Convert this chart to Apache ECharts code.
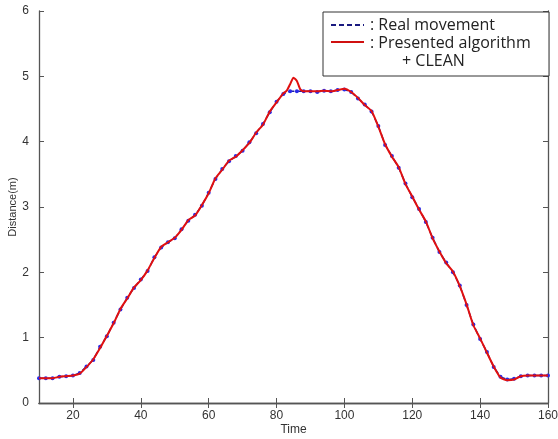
<!DOCTYPE html>
<html>
<head>
<meta charset="utf-8">
<script src="https://cdn.jsdelivr.net/npm/echarts@6/dist/echarts.min.js"></script>
<style>html,body{margin:0;padding:0;background:#fff;}#c{width:558px;height:439px;}</style>
</head>
<body>
<div id="c"></div>
<script>
// Real movement (blue dashed with markers)
var realTime = [10,12,14,16,18,20,22,24,26,28,30,32,34,36,38,40,42,44,46,48,50,52,54,56,58,60,62,64,66,68,70,72,74,76,78,80,82,84,86,88,90,92,94,96,98,100,102,104,106,108,110,112,114,116,118,120,122,124,126,128,130,132,134,136,138,140,142,144,146,148,150,152,154,156,158,160];
var realDist = [0.38,0.38,0.38,0.40,0.41,0.42,0.46,0.56,0.66,0.86,1.02,1.23,1.43,1.61,1.76,1.89,2.02,2.23,2.38,2.46,2.52,2.66,2.79,2.88,3.02,3.22,3.43,3.58,3.70,3.78,3.86,3.99,4.13,4.27,4.45,4.61,4.73,4.77,4.77,4.77,4.77,4.76,4.78,4.77,4.79,4.80,4.76,4.66,4.57,4.46,4.24,3.95,3.78,3.60,3.36,3.15,2.97,2.77,2.53,2.31,2.15,2.00,1.80,1.50,1.20,0.98,0.78,0.55,0.40,0.36,0.37,0.41,0.42,0.42,0.42,0.42];
// Presented algorithm + CLEAN (red solid)
var algTime = [10,12,14,16,18,20,22,24,26,28,30,32,34,36,38,40,42,44,46,48,50,52,54,56,58,60,62,64,66,68,70,72,74,76,78,80,82,83,84,85,86,87,88,90,92,94,96,98,100,102,104,106,108,110,112,114,116,118,120,122,124,126,128,130,132,134,136,138,140,142,144,146,148,150,152,154,156,158,160];
var algDist = [0.38,0.38,0.38,0.40,0.41,0.42,0.45,0.55,0.67,0.84,1.03,1.22,1.44,1.60,1.77,1.88,2.03,2.22,2.39,2.46,2.53,2.65,2.80,2.87,3.03,3.21,3.44,3.57,3.71,3.77,3.87,3.98,4.14,4.26,4.46,4.60,4.74,4.78,4.88,4.98,4.93,4.80,4.77,4.77,4.77,4.78,4.77,4.79,4.81,4.76,4.67,4.56,4.47,4.23,3.96,3.77,3.61,3.35,3.16,2.96,2.78,2.52,2.32,2.14,2.01,1.79,1.51,1.19,0.99,0.77,0.56,0.39,0.35,0.36,0.41,0.42,0.42,0.42,0.42];
var xTicks = [20,40,60,80,100,120,140,160];
var yTicks = [0,1,2,3,4,5,6];
var legendNames = [': Real movement', ': Presented algorithm', '+ CLEAN'];

function pairs(xs, ys){ return xs.map(function(x,i){ return [x, ys[i]]; }); }

var axisCol = '#555';
var labelStyle = {color:'#333', fontSize:12, fontFamily:'Liberation Sans, Arial, sans-serif'};
var legFont = '16px "Open Sans", sans-serif';
var chart = echarts.init(document.getElementById('c'));
chart.setOption({
  animation:false,
  grid:{left:39, right:10, top:11, bottom:36, outerBoundsMode:'none', containLabel:false},
  xAxis:[{
    type:'value', min:10, max:160, position:'bottom',
    name:'Time', nameLocation:'middle', nameGap:21, nameMoveOverlap:false,
    nameTextStyle:{color:'#333', fontSize:12, fontFamily:'Liberation Sans, Arial, sans-serif'},
    axisLine:{lineStyle:{color:axisCol, width:1.3}},
    axisTick:{inside:true, length:5, customValues:xTicks, lineStyle:{color:axisCol}},
    axisLabel:Object.assign({customValues:xTicks, margin:7}, labelStyle),
    splitLine:{show:false}
  },{
    type:'value', min:10, max:160, position:'top',
    axisLine:{lineStyle:{color:axisCol, width:1.3}},
    axisTick:{inside:true, length:5, customValues:xTicks, lineStyle:{color:axisCol}},
    axisLabel:{show:false}, splitLine:{show:false}
  }],
  yAxis:[{
    type:'value', min:0, max:6, interval:1, position:'left',
    name:'Distance(m)', nameLocation:'middle', nameGap:21, nameRotate:90, nameMoveOverlap:false,
    nameTextStyle:{color:'#333', fontSize:11, fontFamily:'Liberation Sans, Arial, sans-serif'},
    axisLine:{show:true, lineStyle:{color:axisCol, width:1.3}},
    axisTick:{show:true, inside:true, length:5, lineStyle:{color:axisCol}},
    axisLabel:Object.assign({margin:10}, labelStyle),
    splitLine:{show:false}
  },{
    type:'value', min:0, max:6, interval:1, position:'right',
    axisLine:{show:true, lineStyle:{color:axisCol, width:1.3}},
    axisTick:{show:true, inside:true, length:5, lineStyle:{color:axisCol}},
    axisLabel:{show:false}, splitLine:{show:false}
  }],
  series:[{
    name:'Real movement', type:'line', xAxisIndex:0, yAxisIndex:0,
    data:pairs(realTime, realDist),
    symbol:'circle', symbolSize:4, showSymbol:true,
    itemStyle:{color:'#2a2ae8'},
    lineStyle:{color:'#1a1aa0', width:1.5, type:'dashed'},
    z:2
  },{
    name:'Presented algorithm + CLEAN', type:'line', xAxisIndex:0, yAxisIndex:0,
    data:pairs(algTime, algDist),
    symbol:'none', smooth:0.2,
    lineStyle:{color:'#e01010', width:2},
    z:3
  }],
  graphic:[
    {type:'rect', shape:{x:323, y:12, width:226, height:64}, style:{fill:'#fff', stroke:'#333', lineWidth:1}, z:10},
    {type:'line', shape:{x1:331, y1:25, x2:364, y2:25}, style:{stroke:'#1a1a80', lineWidth:2, lineDash:[5,3]}, z:11},
    {type:'text', x:370, y:25, style:{text:legendNames[0], fill:'#222', font:legFont, textVerticalAlign:'middle'}, z:11},
    {type:'line', shape:{x1:331, y1:42, x2:364, y2:42}, style:{stroke:'#d01010', lineWidth:2}, z:11},
    {type:'text', x:370, y:43, style:{text:legendNames[1], fill:'#222', font:legFont, textVerticalAlign:'middle'}, z:11},
    {type:'text', x:402, y:61, style:{text:legendNames[2], fill:'#222', font:legFont, textVerticalAlign:'middle'}, z:11}
  ]
});
</script>
</body>
</html>
